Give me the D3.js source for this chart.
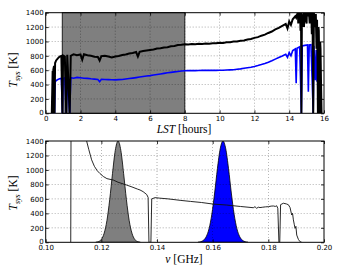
<!DOCTYPE html>
<html><head><meta charset="utf-8">
<script src="https://cdn.jsdelivr.net/npm/d3@7"></script>
<style>body{margin:0;background:#fff}svg{display:block}</style>
</head><body>
<svg id="c" width="360" height="270"></svg>
<script>
// ---- top panel data (LST in hours, Tsys in K) ----
const lstBlack = [0.35,0.40,0.42,0.44,0.48,0.51,0.54,0.60,0.70,0.80,0.90,0.96,1.00,1.10,1.18,1.24,1.38,1.44,1.60,1.80,2.00,2.10,2.20,2.40,2.60,2.80,3.00,3.10,3.20,3.40,3.60,3.80,4.00,4.20,4.40,4.60,4.80,5.00,5.20,5.30,5.40,5.60,5.80,6.00,6.20,6.40,6.60,6.80,7.00,7.20,7.40,7.60,7.80,8.00,8.20,8.40,8.60,8.80,9.00,9.20,9.40,9.60,9.80,10.00,10.20,10.40,10.60,10.80,11.00,11.20,11.40,11.60,11.80,12.00,12.20,12.40,12.60,12.80,13.00,13.20,13.40,13.60,13.80,13.90,14.00,14.10,14.20,14.35,14.40,14.45,14.50,14.52,14.55,14.58,14.62,14.65,14.68,14.70,14.73,14.78,14.82,14.85,14.88,14.95,15.00,15.02,15.08,15.12,15.18,15.22,15.28,15.30,15.34,15.38,15.42,15.46,15.50,15.53,15.57,15.60,15.63,15.65,15.68,15.70,15.73,15.76,15.78,15.80,15.83,15.86];
const tsysBlack = [0,590,0,610,660,0,700,735,765,790,798,0,805,790,0,815,0,800,822,808,818,745,822,808,800,788,783,735,796,800,790,778,790,798,812,818,832,838,852,790,855,866,874,882,888,902,904,916,920,932,938,950,954,960,958,964,962,968,964,970,968,974,974,982,980,988,990,998,1000,1010,1014,1027,1034,1050,1060,1080,1094,1118,1138,1168,1188,1218,1243,1180,1278,1230,1308,1352,1330,1372,1400,1250,1420,1300,1450,1150,1420,0,1380,1200,1450,1200,1500,1300,1250,1480,1350,1450,1250,1460,1300,1100,1420,0,1400,1250,1200,1380,900,1300,700,0,1200,1150,600,0,1000,900,400,0];
const lstBlue = [0.35,0.40,0.42,0.44,0.48,0.51,0.54,0.60,0.70,0.80,0.90,0.96,1.00,1.10,1.18,1.24,1.38,1.44,1.60,1.80,2.00,2.20,2.40,2.60,2.80,3.00,3.10,3.20,3.40,3.60,3.80,4.00,4.20,4.40,4.60,4.80,5.00,5.20,5.40,5.60,5.80,6.00,6.20,6.40,6.60,6.80,7.00,7.20,7.40,7.60,7.80,8.00,8.20,8.40,8.60,8.80,9.00,9.20,9.40,9.60,9.80,10.00,10.20,10.40,10.60,10.80,11.00,11.20,11.40,11.60,11.80,12.00,12.20,12.40,12.60,12.80,13.00,13.20,13.40,13.60,13.80,13.90,14.00,14.10,14.20,14.35,14.40,14.45,14.60,14.70,14.75,14.90,15.05,15.10,15.15,15.25,15.30,15.38,15.42,15.50,15.55,15.60];
const tsysBlue = [0,240,0,300,380,0,430,455,470,480,488,0,482,495,0,490,0,496,488,500,494,488,486,480,476,471,440,474,470,468,466,465,468,471,478,484,490,497,505,512,518,524,532,540,548,556,564,570,576,582,588,592,594,595,594,596,598,597,598,597,598,600,600,602,604,607,612,618,626,634,642,652,664,678,694,712,732,754,776,798,822,780,846,800,872,895,420,905,925,0,938,945,950,300,952,955,600,0,940,460,880,440];
const lstTicks = [0,2,4,6,8,10,12,14,16];
const lstShade = [0.95, 8];
const tsysTicks = [0,200,400,600,800,1000,1200,1400];

// ---- bottom panel data (frequency in GHz) ----
const nuSpec = [0.1090,0.1092,0.1140,0.1147,0.1155,0.1165,0.1175,0.1185,0.1195,0.1207,0.1220,0.1243,0.1260,0.1280,0.1290,0.1310,0.1330,0.1339,0.1350,0.1363,0.1368,0.1371,0.1378,0.1381,0.1393,0.1410,0.1440,0.1483,0.1520,0.1560,0.1602,0.1650,0.1700,0.1746,0.1752,0.1758,0.1764,0.1770,0.1780,0.1790,0.1800,0.1810,0.1818,0.1825,0.1830,0.1834,0.1838,0.1841,0.1844,0.1854,0.1865,0.1872,0.1878,0.1884,0.1887,0.1890,0.1893,0.1896,0.1899,0.1902,0.1908,0.1914,0.1920];
const tsysSpec = [0,3000,2000,1400,1280,1140,1050,990,950,910,880,860,830,805,792,765,735,723,700,660,620,0,0,600,617,610,600,580,565,550,528,515,495,478,492,470,485,480,485,490,492,500,502,496,505,470,0,0,520,540,530,519,480,377,400,310,250,193,220,100,40,8,0];
const nuBandA = [0.1180,0.1190,0.1200,0.1210,0.1220,0.1230,0.1240,0.1250,0.1260,0.1270,0.1280,0.1290,0.1300,0.1310,0.1320,0.1330,0.1340];
const bandA = [0,10,40,125,300,590,950,1270,1400,1270,950,590,300,125,40,10,0];
const nuBandB = [0.1547,0.1557,0.1567,0.1577,0.1587,0.1597,0.1607,0.1617,0.1627,0.1637,0.1647,0.1657,0.1667,0.1677,0.1687,0.1697,0.1707,0.1717,0.1727];
const bandB = [0,8,28,79,189,389,681,1017,1292,1400,1292,1017,681,389,189,79,28,8,0];
const nuTicks = [0.10,0.12,0.14,0.16,0.18,0.20];
const nuTickLabels = ["0.10","0.12","0.14","0.16","0.18","0.20"];

const svg = d3.select("#c");
const L = 45.7, R = 324;
const panels = [{top:12.7, bottom:113.3}, {top:141, bottom:242.3}];

function frame(p, x, y, xt, xl, id) {
  const g = svg.append("g");
  g.append("clipPath").attr("id", id).append("rect")
    .attr("x", L).attr("y", p.top).attr("width", R-L).attr("height", p.bottom-p.top);
  return {g, finish: () => {
    const gg = g.append("g");
    xt.slice(1,-1).forEach(v => gg.append("line").attr("x1",x(v)).attr("x2",x(v)).attr("y1",p.top).attr("y2",p.bottom));
    tsysTicks.slice(1,-1).forEach(v => gg.append("line").attr("x1",L).attr("x2",R).attr("y1",y(v)).attr("y2",y(v)));
    gg.selectAll("line").attr("stroke","#000").attr("stroke-width",0.6).attr("stroke-dasharray","1,2").attr("opacity",0.55);
    const ax = g.append("g").attr("transform",`translate(0,${p.bottom})`)
      .call(d3.axisBottom(x).tickValues(xt).tickFormat((d,i)=>xl[i]).tickSize(-3).tickPadding(3));
    const axT = g.append("g").attr("transform",`translate(0,${p.top})`)
      .call(d3.axisTop(x).tickValues(xt).tickFormat("").tickSize(-3));
    const ay = g.append("g").attr("transform",`translate(${L},0)`)
      .call(d3.axisLeft(y).tickValues(tsysTicks).tickFormat(d3.format("d")).tickSize(-3).tickPadding(2));
    const ayR = g.append("g").attr("transform",`translate(${R},0)`)
      .call(d3.axisRight(y).tickValues(tsysTicks).tickFormat("").tickSize(-3));
    [ax,axT,ay,ayR].forEach(a => {
      a.select(".domain").remove();
      a.selectAll("line").attr("stroke","#000").attr("stroke-width",0.8);
      a.selectAll("text").attr("font-family","DejaVu Sans").attr("font-size",7).attr("fill","#000");
    });
    // lift the "0" y tick label a little, as in the reference
    ay.selectAll(".tick").filter(d => d === 0).select("text").attr("dy","0.1em");
    g.append("rect").attr("x",L).attr("y",p.top).attr("width",R-L).attr("height",p.bottom-p.top)
      .attr("fill","none").attr("stroke","#000").attr("stroke-width",1);
  }};
}

function ylabel(cy) {
  const t = svg.append("text").attr("transform",`translate(17,${cy}) rotate(-90)`)
    .attr("text-anchor","middle").attr("font-family","Liberation Serif").attr("font-size",11.5).attr("fill","#000");
  t.append("tspan").attr("font-style","italic").text("T");
  t.append("tspan").attr("font-style","italic").attr("font-size",8).attr("dy",2.5).text("sys");
  t.append("tspan").attr("dy",-2.5).text(" [K]");
}

// ---- top panel ----
{
  const p = panels[0];
  const x = d3.scaleLinear().domain([0,16]).range([L,R]);
  const y = d3.scaleLinear().domain([0,1400]).range([p.bottom,p.top]);
  const f = frame(p, x, y, lstTicks, lstTicks.map(String), "clipTop");
  f.g.append("rect").attr("x",x(lstShade[0])).attr("y",p.top).attr("width",x(lstShade[1])-x(lstShade[0]))
    .attr("height",p.bottom-p.top).attr("fill","#7f7f7f").attr("stroke","#000").attr("stroke-width",0.8);
  f.finish();
  const plot = f.g.append("g").attr("clip-path","url(#clipTop)");
  const line = (xs, vals) => d3.line().x((d,i) => x(xs[i])).y((d,i) => y(vals[i]))(vals);
  plot.append("path").attr("d", line(lstBlue, tsysBlue)).attr("fill","none").attr("stroke","#0000ff").attr("stroke-width",1.6);
  plot.append("path").attr("d", line(lstBlack, tsysBlack)).attr("fill","none").attr("stroke","#000").attr("stroke-width",2);
  svg.append("text").attr("x",184).attr("y",133).attr("text-anchor","middle")
    .attr("font-family","Liberation Serif").attr("font-size",11.5)
    .call(t => { t.append("tspan").attr("font-style","italic").text("LST"); t.append("tspan").text(" [hours]"); });
  ylabel(70);
}

// ---- bottom panel ----
{
  const p = panels[1];
  const x = d3.scaleLinear().domain([0.10,0.20]).range([L,R]);
  const y = d3.scaleLinear().domain([0,1400]).range([p.bottom,p.top]);
  const f = frame(p, x, y, nuTicks, nuTickLabels, "clipBot");
  const plot = f.g.append("g").attr("clip-path","url(#clipBot)");
  const area = (nu, v) => d3.area().curve(d3.curveMonotoneX).x((d,i)=>x(nu[i])).y0(y(0)).y1((d,i)=>y(v[i]))(v);
  plot.append("path").attr("d", area(nuBandA, bandA)).attr("fill","#7f7f7f").attr("stroke","#000").attr("stroke-width",0.8);
  plot.append("path").attr("d", area(nuBandB, bandB)).attr("fill","#0000ff").attr("stroke","#000").attr("stroke-width",0.8);
  f.finish();
  const plot2 = f.g.append("g").attr("clip-path","url(#clipBot)");
  plot2.append("path").attr("d", d3.line().x((d,i)=>x(nuSpec[i])).y((d,i)=>y(tsysSpec[i]))(tsysSpec))
    .attr("fill","none").attr("stroke","#111").attr("stroke-width",0.9);
  svg.append("text").attr("x",184).attr("y",263).attr("text-anchor","middle")
    .attr("font-family","Liberation Serif").attr("font-size",11.5)
    .call(t => { t.append("tspan").attr("font-style","italic").text("ν"); t.append("tspan").text(" [GHz]"); });
  ylabel(193);
}
</script>
</body></html>
